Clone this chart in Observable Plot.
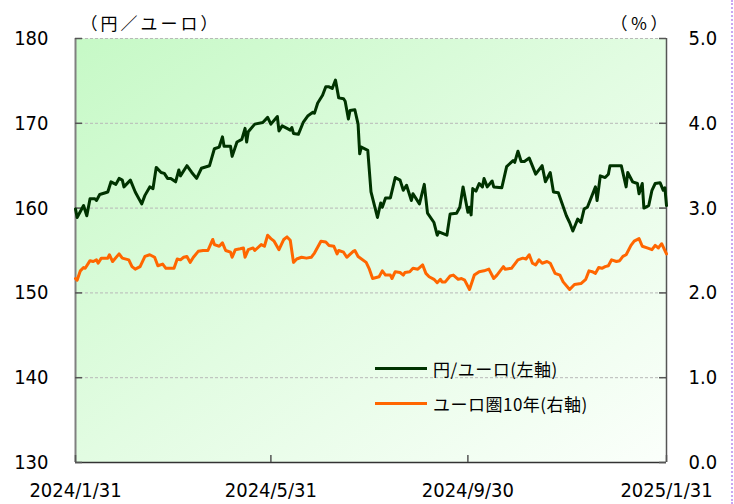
<!DOCTYPE html>
<html><head><meta charset="utf-8">
<script src="https://cdn.jsdelivr.net/npm/d3@7"></script>
<script src="https://cdn.jsdelivr.net/npm/@observablehq/plot@0.6"></script>
<style>
body{margin:0;background:#fff;}
#wrap{position:relative;width:734px;height:504px;overflow:hidden;}
#legend{position:absolute;left:375px;top:358px;font-family:"Noto Sans CJK JP",sans-serif;font-size:17px;color:#000;letter-spacing:0.5px;}
.row{display:flex;align-items:center;height:20px;}
.row+.row{margin-top:15px;}
.sw{width:52px;height:3px;margin-right:6px;}
#edge{position:absolute;left:731px;top:0;width:0;height:504px;border-left:2px dotted #c9a6f3;}
</style></head>
<body><div id="wrap"><div id="legend"></div><div id="edge"></div></div>
<script>
// 円/ユーロ (left axis): [days since 2024/1/31, value]
const fxSeries = [[0,159.9],[1,158.9],[5,160.3],[7,159.1],[9,161.1],[12,161.1],[13,160.9],[15,161.6],[20,161.9],[22,163.1],[25,162.8],[27,163.5],[29,163.3],[30,162.5],[34,163.3],[37,161.9],[41,160.5],[43,161.5],[46,162.5],[48,162.3],[50,164.8],[53,164.2],[55,164.1],[57,163.5],[59,163.5],[62,163.1],[64,164.5],[65,163.8],[69,165.0],[72,164.2],[75,163.5],[78,164.7],[83,165.0],[86,167.0],[89,167.2],[91,168.4],[92,167.3],[96,167.3],[97,166.1],[100,167.8],[103,168.1],[105,169.4],[106,167.8],[107,169.0],[111,169.9],[116,170.1],[119,170.7],[121,169.9],[125,170.8],[126,169.1],[128,169.7],[131,169.4],[133,169.2],[134,169.5],[135,168.8],[138,168.7],[141,170.1],[144,170.9],[147,171.3],[148,171.2],[150,172.4],[153,173.3],[155,174.3],[157,174.3],[159,174.1],[161,175.1],[163,173.0],[166,172.9],[167,172.6],[169,170.5],[170,171.5],[173,171.6],[175,169.9],[176,166.4],[177,167.2],[181,166.8],[183,161.9],[187,158.9],[189,160.6],[190,160.1],[192,161.2],[195,161.2],[198,163.6],[201,163.3],[203,162.1],[205,162.7],[208,160.9],[209,161.7],[213,160.5],[216,162.8],[218,159.4],[222,158.3],[224,156.8],[225,157.2],[230,156.8],[232,159.3],[236,159.4],[238,160.1],[240,162.5],[243,159.5],[244,160.1],[245,159.2],[246,162.3],[248,162.0],[250,162.9],[252,162.5],[253,163.5],[255,162.5],[258,163.2],[259,162.5],[264,162.4],[267,164.9],[271,165.6],[272,165.4],[274,166.7],[276,165.5],[278,165.5],[281,165.9],[285,164.0],[289,165.0],[291,163.1],[294,164.2],[296,161.9],[299,161.8],[304,159.1],[306,158.3],[308,157.3],[311,158.7],[313,158.3],[315,159.9],[317,160.1],[322,162.5],[323,160.9],[325,163.8],[328,163.6],[330,164.0],[331,165.0],[338,165.0],[341,162.5],[342,164.2],[345,163.1],[348,162.9],[349,161.7],[351,162.9],[352,160.0],[355,160.3],[357,162.1],[359,162.9],[362,163.0],[364,162.1],[365,162.4],[366,160.3]];
// ユーロ圏10年 (right axis, %): [days since 2024/1/31, value]
const yieldSeries = [[0,2.17],[1,2.15],[3,2.26],[5,2.30],[6,2.29],[9,2.38],[11,2.37],[13,2.39],[14,2.35],[16,2.41],[20,2.41],[21,2.45],[23,2.37],[27,2.46],[29,2.41],[33,2.39],[35,2.31],[37,2.28],[40,2.31],[43,2.43],[46,2.45],[49,2.42],[51,2.32],[54,2.34],[56,2.29],[61,2.29],[63,2.40],[65,2.39],[67,2.42],[69,2.43],[71,2.36],[73,2.42],[76,2.49],[79,2.50],[82,2.50],[85,2.63],[86,2.57],[89,2.55],[91,2.59],[93,2.50],[96,2.48],[97,2.42],[99,2.51],[102,2.52],[104,2.53],[105,2.42],[107,2.51],[110,2.53],[111,2.50],[115,2.57],[117,2.55],[119,2.68],[121,2.64],[123,2.61],[126,2.51],[129,2.63],[131,2.66],[133,2.62],[135,2.36],[137,2.40],[140,2.42],[143,2.41],[146,2.42],[148,2.47],[152,2.61],[155,2.60],[157,2.56],[160,2.55],[162,2.46],[163,2.50],[166,2.48],[168,2.42],[172,2.49],[173,2.50],[175,2.43],[180,2.36],[182,2.28],[184,2.17],[188,2.19],[190,2.26],[192,2.21],[195,2.21],[196,2.17],[198,2.25],[201,2.24],[203,2.21],[204,2.24],[207,2.25],[209,2.29],[212,2.28],[215,2.33],[217,2.23],[219,2.19],[222,2.16],[224,2.12],[226,2.16],[227,2.13],[229,2.13],[232,2.20],[234,2.21],[237,2.16],[239,2.17],[241,2.15],[244,2.04],[247,2.21],[250,2.25],[253,2.26],[256,2.28],[259,2.17],[261,2.21],[263,2.26],[265,2.31],[266,2.28],[270,2.29],[274,2.39],[277,2.41],[279,2.40],[281,2.45],[283,2.35],[285,2.33],[287,2.39],[289,2.35],[292,2.37],[294,2.35],[297,2.23],[300,2.21],[302,2.13],[306,2.04],[309,2.10],[313,2.11],[316,2.16],[318,2.26],[320,2.25],[322,2.23],[324,2.30],[326,2.29],[328,2.31],[330,2.32],[332,2.39],[335,2.37],[337,2.38],[339,2.43],[341,2.45],[344,2.56],[346,2.61],[349,2.64],[351,2.55],[354,2.53],[357,2.51],[359,2.56],[361,2.53],[363,2.58],[366,2.46]];

const leftTicks = [130, 140, 150, 160, 170, 180];
const rightTicks = [0, 1, 2, 3, 4, 5];
const xTickLabels = ["2024/1/31", "2024/5/31", "2024/9/30", "2025/1/31"];
const seriesNames = ["円/ユーロ(左軸)", "ユーロ圏10年(右軸)"];
const seriesColors = ["#003300", "#ff6600"];
const leftUnit = "（円／ユーロ）";
const rightUnit = "（％）";

const parseD = s => { const [y, m, d] = s.split("/").map(Number); return new Date(Date.UTC(y, m - 1, d)); };
const xTicks = xTickLabels.map(parseD);
const start = xTicks[0], end = xTicks[xTicks.length - 1];
const toDate = d => d3.utcDay.offset(start, d);
const fx = fxSeries.map(([d, v]) => ({date: toDate(d), v}));
const yl = yieldSeries.map(([d, v]) => ({date: toDate(d), v}));
// right axis (0–5%) mapped onto left scale (130–180)
const r2l = v => 130 + v * 10;
const fmtDate = d => `${d.getUTCFullYear()}/${d.getUTCMonth() + 1}/${d.getUTCDate()}`;

const W = 734, H = 504, mL = 75, mR = 68, mT = 38, mB = 42;
const fw = W - mL - mR, fh = H - mT - mB;

const chart = Plot.plot({
  width: W, height: H,
  marginLeft: mL, marginRight: mR, marginTop: mT, marginBottom: mB,
  style: {fontFamily: "'DejaVu Sans Condensed','DejaVu Sans',sans-serif", fontSize: "20px", color: "#000", background: "transparent"},
  x: {type: "utc", domain: [start, end]},
  y: {domain: [130, 180]},
  marks: [
    Plot.frame({fill: "url(#bgGrad)", stroke: "none"}),
    Plot.ruleY(leftTicks.slice(1), {stroke: "#b8b8b8", strokeWidth: 1, strokeDasharray: "3,2"}),
    Plot.ruleX([start], {stroke: "#808080", strokeWidth: 2}),
    Plot.ruleX([end], {stroke: "#555", strokeWidth: 1.5}),
    Plot.ruleY([130], {stroke: "#333", strokeWidth: 1.5}),
    Plot.tickY(leftTicks, {stroke: "#555", strokeWidth: 1.5, insetRight: fw - 7}),
    Plot.tickY(rightTicks.map(r2l), {stroke: "#555", strokeWidth: 1.5, insetLeft: fw - 7}),
    Plot.tickX(xTicks, {stroke: "#555", strokeWidth: 1.5, insetTop: fh - 7}),
    Plot.lineY(yl, {x: "date", y: d => r2l(d.v), stroke: seriesColors[1], strokeWidth: 3}),
    Plot.lineY(fx, {x: "date", y: "v", stroke: seriesColors[0], strokeWidth: 3}),
    Plot.axisY(leftTicks, {anchor: "left", label: null, tickSize: 0, tickPadding: 27, fontSize: 20}),
    Plot.axisY(rightTicks.map(r2l), {anchor: "right", label: null, tickSize: 0, tickPadding: 22, fontSize: 20, tickFormat: d => ((d - 130) / 10).toFixed(1)}),
    Plot.axisX(xTicks, {anchor: "bottom", label: null, tickSize: 0, tickPadding: 20, fontSize: 20, tickFormat: fmtDate}),
    Plot.text([leftUnit], {frameAnchor: "top-left", textAnchor: "start", dx: 5, dy: -21, fontSize: 17, fontFamily: "'Noto Sans CJK JP',sans-serif"}),
    Plot.text([rightUnit], {frameAnchor: "top-right", textAnchor: "start", dx: -56, dy: -21, fontSize: 17, fontFamily: "'Noto Sans CJK JP',sans-serif"})
  ]
});

const ns = "http://www.w3.org/2000/svg";
const defs = document.createElementNS(ns, "defs");
defs.innerHTML = `<linearGradient id="bgGrad" x1="0" y1="0" x2="1" y2="1">
  <stop offset="0" stop-color="#c6f9c6"/><stop offset="0.5" stop-color="#e2fce2"/><stop offset="1" stop-color="#fbfffb"/></linearGradient>`;
chart.insertBefore(defs, chart.firstChild);
chart.querySelectorAll("text").forEach(t => {
  if (t.textContent === leftUnit || t.textContent === rightUnit) t.setAttribute("letter-spacing", "3");
});
const wrap = document.getElementById("wrap");
wrap.insertBefore(chart, wrap.firstChild);

const legend = document.getElementById("legend");
seriesNames.forEach((name, i) => {
  const row = document.createElement("div");
  row.className = "row";
  const sw = document.createElement("span");
  sw.className = "sw";
  sw.style.background = seriesColors[i];
  const tx = document.createElement("span");
  tx.textContent = name;
  row.appendChild(sw); row.appendChild(tx);
  legend.appendChild(row);
});
</script>
</body></html>
